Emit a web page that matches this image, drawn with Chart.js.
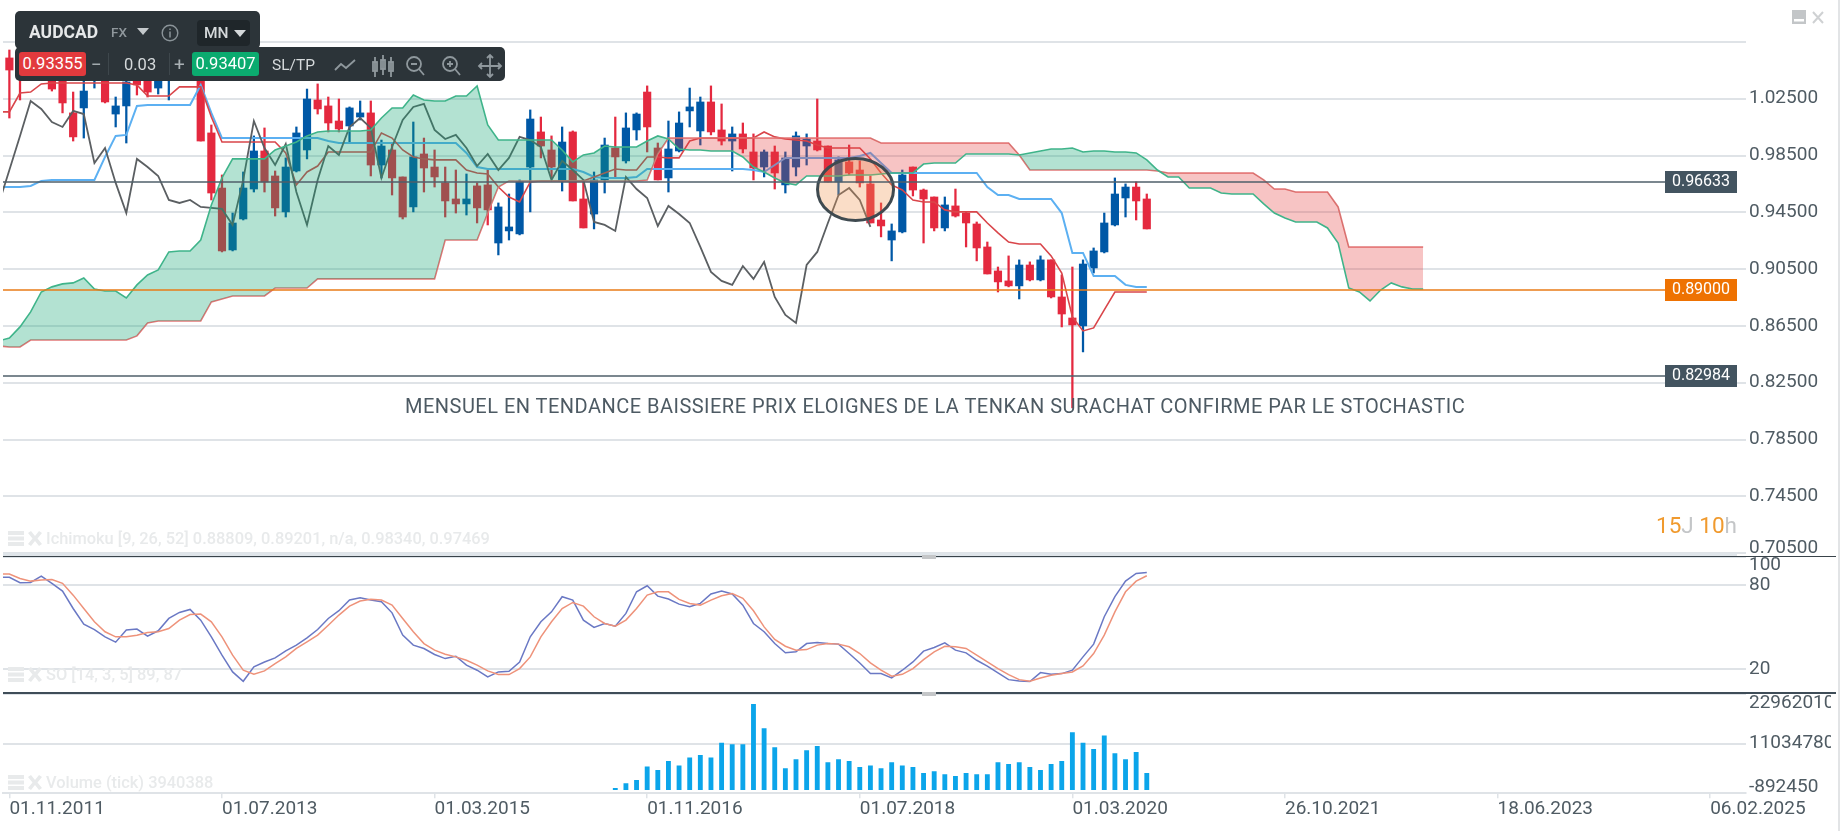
<!DOCTYPE html>
<html>
<head>
<meta charset="utf-8">
<title>AUDCAD MN</title>
<script src="https://cdn.jsdelivr.net/npm/chart.js@4/dist/chart.umd.min.js"></script>
<style>
  html, body { margin: 0; padding: 0; background: #fff; overflow: hidden; }
  body { width: 1841px; height: 831px; position: relative; font-family: Roboto, sans-serif; }
  canvas { position: absolute; left: 0; display: block; }
  #volumeWrap { position: absolute; left: 0; top: 693px; width: 1831px; height: 138px; overflow: hidden; }
  #volumeWrap canvas { top: 0; }
  .abs { position: absolute; white-space: nowrap; }
  .sep { position: absolute; left: 3px; }
  .handle { position: absolute; left: 922px; width: 14px; height: 4px; background: #c4c6c8; }
  .legend { position: absolute; left: 46px; color: #e8eaeb; font-size: 16.4px; font-weight: 500; line-height: 20px; white-space: nowrap; }
  .legend-icon { position: absolute; left: 8px; }
  .bar { position: absolute; background: #2c3439; border-radius: 5px; }
  .tb { position: absolute; color: #d5d9db; white-space: nowrap; line-height: 1; }
  .price-box { position: absolute; height: 24px; line-height: 24px; color: #fff; font-size: 16.5px; text-align: center; border-radius: 3px; }
</style>
</head>
<body>
<canvas id="priceChart" width="1841" height="556" style="top:0"></canvas>
<canvas id="stochChart" width="1841" height="137" style="top:556px"></canvas>
<div id="volumeWrap"><canvas id="volumeChart" width="1841" height="138"></canvas></div>

<!-- separations entre les panneaux -->
<div class="sep" style="top:553px;width:1734px;height:5px;background:#dfe5ea"></div>
<div class="sep" style="top:555.5px;width:1833px;height:1.5px;background:#39434a"></div>
<div class="handle" style="top:555px"></div>
<div class="sep" style="top:691.5px;width:1833px;height:2.5px;background:#3f4d58"></div>
<div class="handle" style="top:692px"></div>
<div class="abs" style="left:1838px;top:0;width:2px;height:831px;background:#e2e4e6"></div>

<div class="abs" id="comment" style="left:405px;top:394px;font-size:20px;line-height:24px;color:#4d5a63;letter-spacing:0.48px">MENSUEL EN TENDANCE BAISSIERE PRIX ELOIGNES DE LA TENKAN SURACHAT CONFIRME PAR LE STOCHASTIC</div>

<svg class="legend-icon" style="top:531px" width="36" height="16"><g fill="#e8eaeb"><rect width="16" height="4"/><rect y="5.5" width="16" height="4"/><rect y="11" width="16" height="4"/><path d="M20 2l3-2 4 5 4-5 3 2-4.500 5.500 4.500 5.500-3 2-4-5-4 5-3-2 4.500-5.500z"/></g></svg>
<div class="legend" style="top:529px">Ichimoku [9, 26, 52] 0.88809, 0.89201, n/a, 0.98340, 0.97469</div>
<svg class="legend-icon" style="top:667px" width="36" height="16"><g fill="#e8eaeb"><rect width="16" height="4"/><rect y="5.5" width="16" height="4"/><rect y="11" width="16" height="4"/><path d="M20 2l3-2 4 5 4-5 3 2-4.500 5.500 4.500 5.500-3 2-4-5-4 5-3-2 4.500-5.500z"/></g></svg>
<div class="legend" style="top:665px">SO [14, 3, 5] 89, 87</div>
<svg class="legend-icon" style="top:775px" width="36" height="16"><g fill="#e8eaeb"><rect width="16" height="4"/><rect y="5.5" width="16" height="4"/><rect y="11" width="16" height="4"/><path d="M20 2l3-2 4 5 4-5 3 2-4.500 5.500 4.500 5.500-3 2-4-5-4 5-3-2 4.500-5.500z"/></g></svg>
<div class="legend" style="top:773px">Volume (tick) 3940388</div>

<div class="abs" style="left:1656px;top:512px;font-size:22.500px;line-height:27px"><span style="color:#f09a2e">15</span><span style="color:#c4c6c8">J </span><span style="color:#f09a2e">10</span><span style="color:#c4c6c8">h</span></div>

<!-- icones fenetre -->
<svg class="abs" style="left:1792px;top:10px" width="34" height="15"><rect width="14" height="14" fill="#c3c6c8"/><rect x="2" y="9" width="10" height="2.500" fill="#fff"/><path d="M21 2l10 11M31 2l-10 11" stroke="#cfd1d3" stroke-width="2"/></svg>

<!-- barre d'outils -->
<div class="bar" style="left:15px;top:11px;width:245px;height:38px"></div>
<div class="bar" style="left:15px;top:47px;width:490px;height:34px"></div>
<div class="tb" style="left:29px;top:24px;font-size:17.500px;font-weight:700;color:#e6e8e9">AUDCAD</div>
<div class="tb" style="left:111px;top:26px;font-size:13.500px;font-weight:500;color:#8f979c">FX</div>
<svg class="abs" style="left:137px;top:28px" width="12" height="8"><path d="M0 0h12l-6 7z" fill="#c4c9cc"/></svg>
<svg class="abs" style="left:161px;top:24px" width="18" height="18"><circle cx="9" cy="9" r="7.800" fill="none" stroke="#8b9499" stroke-width="1.400"/><path d="M9 7.500v6M9 4.500v1.500" stroke="#8b9499" stroke-width="1.500"/></svg>
<div class="abs" style="left:197px;top:20px;width:53px;height:26px;background:#1f262a;border-radius:4px"></div>
<div class="tb" style="left:204px;top:26px;font-size:15.500px;font-weight:500">MN</div>
<svg class="abs" style="left:234px;top:30px" width="12" height="8"><path d="M0 0h12l-6 7z" fill="#d5d9db"/></svg>

<div class="price-box" style="left:19px;top:52px;width:67px;background:#e23a3d">0.93355</div>
<div class="tb" style="left:91px;top:55px;font-size:19px;color:#a9b0b4">&#8722;</div>
<div class="abs" style="left:108px;top:53px;width:1px;height:22px;background:#3e474c"></div>
<div class="tb" style="left:124px;top:57px;font-size:16.500px">0.03</div>
<div class="abs" style="left:169px;top:53px;width:1px;height:22px;background:#3e474c"></div>
<div class="tb" style="left:174px;top:55px;font-size:19px;color:#a9b0b4">+</div>
<div class="price-box" style="left:192px;top:52px;width:67px;background:#0bab6f">0.93407</div>
<div class="tb" style="left:272px;top:58px;font-size:15.500px">SL/TP</div>
<svg class="abs" style="left:332px;top:52px" width="172" height="28" fill="none" stroke="#8f989d" stroke-width="1.800">
  <path d="M3 18l6-6 5 4 9-8"/>
  <path d="M43 5v20M51 3v20M59 5v20"/><rect x="41" y="10" width="4" height="9"/><rect x="49" y="8" width="4" height="9"/><rect x="57" y="10" width="4" height="9"/>
  <circle cx="82" cy="12" r="7"/><path d="M87 17l5 6M79 12h6"/>
  <circle cx="118" cy="12" r="7"/><path d="M123 17l5 6M115 12h6M118 9v6"/>
  <path d="M158 3v22M147 14h22M155 6l3-3 3 3M155 22l3 3 3-3M150 11l-3 3 3 3M166 11l3 3-3 3"/>
</svg>

<script>
// abscisse : un indice par mois, 0 = 01.11.2011
const xTickValues = [0, 20, 40, 60, 80, 100, 120, 140, 160];
const xTickLabels = ['01.11.2011', '01.07.2013', '01.03.2015', '01.11.2016', '01.07.2018', '01.03.2020', '26.10.2021', '18.06.2023', '06.02.2025'];

const priceTicks = [1.065, 1.025, 0.985, 0.945, 0.905, 0.865, 0.825, 0.785, 0.745, 0.705];
const priceTickLabels = ['', '1.02500', '0.98500', '0.94500', '0.90500', '0.86500', '0.82500', '0.78500', '0.74500', '0.70500'];
const stochTicks = [100, 80, 20];
const stochTickLabels = ['100', '80', '20'];
const volumeTicks = [22962010, 11034780, -892450];
const volumeTickLabels = ['22962010', '11034780', '-892450'];

// bougies mensuelles (108)
const candleOpen = [1.0537,1.0523,1.0509,1.0452,1.0523,1.0417,1.0150,1.0185,1.0396,1.0417,1.0142,1.0199,1.0452,1.0396,1.0325,1.0382,1.0523,1.0607,1.0382,1.0009,0.9621,0.9185,0.9403,0.9614,0.9882,0.9706,0.9453,0.9741,0.9889,1.0241,1.0199,1.0093,1.0058,1.0121,1.0150,0.9783,0.9889,0.9699,0.9488,0.9861,0.9769,0.9657,0.9544,0.9509,0.9636,0.9643,0.9234,0.9319,0.9298,0.9769,1.0016,0.9889,0.9671,1.0016,0.9544,0.9438,0.9678,0.9903,0.9812,1.0030,1.0297,0.9903,0.9692,0.9882,1.0164,1.0023,1.0227,1.0030,0.9952,1.0002,0.9875,0.9769,0.9875,0.9643,0.9769,0.9917,0.9952,0.9917,0.9664,0.9805,0.9748,0.9650,0.9396,0.9255,0.9312,0.9769,0.9607,0.9558,0.9340,0.9495,0.9445,0.9368,0.9206,0.9037,0.8967,0.8932,0.9079,0.8974,0.9115,0.8854,0.8706,0.8650,0.9058,0.9171,0.9361,0.9551,0.9628,0.9544];
const candleHigh = [1.0593,1.0628,1.0692,1.0621,1.0579,1.0466,1.0297,1.0417,1.0579,1.0487,1.0262,1.0410,1.0523,1.0452,1.0452,1.0593,1.0677,1.0663,1.0438,1.0065,0.9713,0.9445,0.9734,0.9988,1.0044,0.9741,0.9833,1.0051,1.0318,1.0354,1.0262,1.0248,1.0192,1.0234,1.0234,0.9959,0.9931,0.9699,1.0086,0.9973,0.9889,0.9769,0.9748,0.9720,0.9657,0.9748,0.9516,0.9579,0.9678,1.0171,1.0121,0.9988,1.0051,1.0023,0.9678,0.9734,0.9973,1.0121,1.0150,1.0150,1.0340,0.9938,1.0093,1.0157,1.0325,1.0262,1.0340,1.0213,1.0051,1.0079,1.0002,0.9889,0.9917,0.9875,1.0016,1.0002,1.0248,0.9917,0.9840,0.9924,0.9812,0.9706,0.9516,0.9368,0.9748,0.9769,0.9614,0.9558,0.9558,0.9614,0.9453,0.9382,0.9241,0.9065,0.9143,0.9115,0.9101,0.9143,0.9115,0.9009,0.9065,0.9115,0.9199,0.9445,0.9692,0.9650,0.9664,0.9579];
const candleLow = [1.0114,1.0241,1.0417,1.0382,1.0304,1.0150,0.9952,0.9973,1.0325,1.0220,1.0051,0.9938,1.0276,1.0262,1.0283,1.0241,1.0452,1.0410,0.9952,0.9537,0.9171,0.9178,0.9396,0.9593,0.9593,0.9424,0.9417,0.9734,0.9826,1.0142,1.0016,1.0016,0.9938,1.0100,0.9706,0.9692,0.9572,0.9403,0.9453,0.9593,0.9628,0.9417,0.9445,0.9431,0.9375,0.9361,0.9150,0.9255,0.9291,0.9453,0.9833,0.9692,0.9600,0.9530,0.9340,0.9333,0.9586,0.9699,0.9797,0.9959,0.9875,0.9678,0.9593,0.9875,1.0051,0.9924,0.9995,0.9924,0.9741,0.9868,0.9678,0.9699,0.9614,0.9586,0.9706,0.9783,0.9882,0.9664,0.9572,0.9713,0.9628,0.9375,0.9277,0.9108,0.9305,0.9565,0.9234,0.9319,0.9319,0.9417,0.9206,0.9108,0.9016,0.8889,0.8925,0.8840,0.8967,0.8967,0.8847,0.8643,0.8073,0.8467,0.9023,0.9164,0.9354,0.9417,0.9396,0.9333];
const candleClose = [1.0452,1.0396,1.0649,1.0579,1.0318,1.0220,0.9981,1.0304,1.0523,1.0227,1.0199,1.0368,1.0347,1.0297,1.0396,1.0509,1.0628,1.0452,0.9952,0.9586,0.9178,0.9375,0.9621,0.9882,0.9664,0.9481,0.9769,1.0009,1.0248,1.0178,1.0079,1.0037,1.0185,1.0150,0.9783,0.9917,0.9692,0.9417,0.9840,0.9762,0.9699,0.9530,0.9509,0.9544,0.9481,0.9467,0.9488,0.9347,0.9664,1.0107,0.9917,0.9769,0.9945,0.9530,0.9340,0.9678,0.9924,0.9840,1.0044,1.0142,1.0051,0.9678,0.9896,1.0079,1.0192,1.0227,1.0016,0.9952,1.0002,0.9896,0.9762,0.9875,0.9727,0.9833,0.9988,0.9966,0.9889,0.9664,0.9819,0.9727,0.9657,0.9375,0.9354,0.9319,0.9713,0.9607,0.9544,0.9340,0.9502,0.9424,0.9375,0.9199,0.9016,0.8960,0.8932,0.9079,0.8974,0.9115,0.8854,0.8734,0.8657,0.9086,0.9178,0.9375,0.9579,0.9628,0.9530,0.9333];

// ichimoku : les series commencent a l'indice -1 (bord gauche du graphique)
const tenkan = [1.0157,1.0157,1.0290,1.0297,1.0354,1.0361,1.0361,1.0361,1.0361,1.0361,1.0361,1.0361,1.0361,1.0347,1.0269,1.0269,1.0269,1.0333,1.0333,1.0333,1.0121,0.9945,0.9945,0.9945,0.9945,0.9945,0.9945,0.9868,0.9643,0.9734,0.9776,0.9875,0.9875,0.9875,0.9875,0.9875,1.0009,0.9973,0.9889,0.9840,0.9826,0.9819,0.9819,0.9819,0.9748,0.9727,0.9720,0.9628,0.9558,0.9523,0.9664,0.9671,0.9671,0.9671,0.9671,0.9671,0.9699,0.9727,0.9755,0.9748,0.9748,0.9840,0.9840,0.9833,0.9833,0.9952,0.9973,0.9973,0.9973,0.9973,0.9973,0.9973,1.0016,0.9981,0.9966,0.9959,0.9952,0.9924,0.9903,0.9903,0.9903,0.9903,0.9826,0.9727,0.9643,0.9607,0.9537,0.9523,0.9523,0.9467,0.9453,0.9453,0.9453,0.9375,0.9305,0.9241,0.9227,0.9227,0.9227,0.9143,0.9023,0.8713,0.8615,0.8636,0.8763,0.8889,0.8889,0.8889,0.8889];
const kijun = [0.9628,0.9628,0.9628,0.9636,0.9671,0.9678,0.9678,0.9678,0.9678,0.9678,0.9840,0.9988,0.9995,1.0199,1.0206,1.0206,1.0206,1.0206,1.0206,1.0347,1.0150,0.9973,0.9973,0.9973,0.9973,0.9973,0.9973,0.9973,0.9973,0.9973,0.9973,0.9952,0.9938,0.9938,0.9938,0.9938,0.9938,0.9938,0.9938,0.9938,0.9938,0.9938,0.9938,0.9938,0.9868,0.9769,0.9755,0.9755,0.9755,0.9755,0.9755,0.9755,0.9755,0.9755,0.9755,0.9734,0.9699,0.9692,0.9692,0.9692,0.9699,0.9755,0.9755,0.9755,0.9755,0.9755,0.9755,0.9755,0.9755,0.9755,0.9755,0.9748,0.9734,0.9783,0.9833,0.9833,0.9833,0.9833,0.9833,0.9833,0.9833,0.9847,0.9868,0.9797,0.9727,0.9727,0.9727,0.9727,0.9727,0.9727,0.9727,0.9727,0.9727,0.9628,0.9572,0.9572,0.9544,0.9544,0.9544,0.9544,0.9445,0.9164,0.9164,0.9002,0.9002,0.9002,0.8939,0.8925,0.8925];
const chikou = [0.9509,0.9748,0.9988,1.0234,1.0178,1.0086,1.0051,1.0164,1.0142,0.9797,0.9903,0.9657,0.9445,0.9826,0.9769,0.9706,0.9537,0.9516,0.9537,0.9488,0.9481,0.9474,0.9361,0.9678,1.0093,0.9903,0.9783,0.9931,0.9593,0.9361,0.9678,0.9917,0.9854,1.0051,1.0114,1.0044,0.9692,0.9910,1.0100,1.0192,1.0213,1.0030,0.9966,0.9995,0.9903,0.9776,0.9861,0.9748,0.9833,0.9981,0.9959,0.9910,0.9678,0.9812,0.9748,0.9678,0.9382,0.9361,0.9319,0.9699,0.9614,0.9551,0.9354,0.9495,0.9438,0.9375,0.9206,0.9030,0.8967,0.8939,0.9072,0.8981,0.9101,0.8854,0.8727,0.8671,0.9079,0.9171,0.9375,0.9572,0.9621,0.9537,0.9347];
const spanA = [0.8544,0.8565,0.8643,0.8749,0.8889,0.8925,0.8946,0.8953,0.8988,0.8910,0.8896,0.8896,0.8847,0.8939,0.9009,0.9044,0.9171,0.9178,0.9178,0.9255,0.9502,0.9692,0.9826,0.9826,0.9826,0.9826,0.9889,0.9917,0.9945,0.9988,1.0016,1.0023,1.0023,1.0023,1.0023,1.0030,1.0114,1.0185,1.0185,1.0276,1.0241,1.0234,1.0234,1.0269,1.0269,1.0340,1.0065,0.9959,0.9959,0.9959,0.9959,0.9959,0.9959,0.9889,0.9805,0.9854,0.9868,0.9917,0.9910,0.9910,0.9910,0.9952,0.9988,0.9966,0.9896,0.9889,0.9889,0.9882,0.9882,0.9882,0.9840,0.9769,0.9734,0.9692,0.9657,0.9643,0.9706,0.9706,0.9706,0.9706,0.9713,0.9713,0.9713,0.9720,0.9727,0.9727,0.9727,0.9790,0.9797,0.9797,0.9797,0.9861,0.9861,0.9861,0.9861,0.9861,0.9854,0.9868,0.9882,0.9896,0.9896,0.9903,0.9875,0.9882,0.9882,0.9875,0.9875,0.9868,0.9819,0.9748,0.9699,0.9699,0.9621,0.9621,0.9621,0.9586,0.9579,0.9579,0.9579,0.9509,0.9445,0.9410,0.9382,0.9382,0.9382,0.9340,0.9234,0.8917,0.8889,0.8826,0.8903,0.8953,0.8925,0.8910,0.8910];
const spanB = [0.8509,0.8502,0.8502,0.8551,0.8551,0.8551,0.8551,0.8551,0.8551,0.8551,0.8551,0.8551,0.8551,0.8580,0.8671,0.8685,0.8685,0.8685,0.8685,0.8685,0.8819,0.8840,0.8861,0.8861,0.8861,0.8861,0.8917,0.8917,0.8917,0.8917,0.8981,0.8981,0.8981,0.8981,0.8981,0.8981,0.8981,0.8981,0.8981,0.8981,0.8981,0.8981,0.9255,0.9255,0.9255,0.9255,0.9445,0.9628,0.9671,0.9671,0.9671,0.9671,0.9671,0.9671,0.9671,0.9671,0.9671,0.9671,0.9671,0.9671,0.9671,0.9678,0.9861,0.9973,0.9973,0.9973,0.9973,0.9973,0.9973,0.9973,0.9973,0.9973,0.9973,0.9973,0.9973,0.9973,0.9973,0.9973,0.9973,0.9973,0.9973,0.9973,0.9973,0.9938,0.9938,0.9938,0.9938,0.9938,0.9938,0.9938,0.9938,0.9938,0.9938,0.9938,0.9938,0.9938,0.9854,0.9748,0.9748,0.9748,0.9748,0.9748,0.9748,0.9748,0.9748,0.9748,0.9748,0.9748,0.9748,0.9741,0.9727,0.9727,0.9727,0.9727,0.9727,0.9727,0.9727,0.9727,0.9727,0.9678,0.9614,0.9614,0.9593,0.9593,0.9593,0.9593,0.9488,0.9206,0.9206,0.9206,0.9206,0.9206,0.9206,0.9206,0.9206];

// niveaux horizontaux
const levelValues = [0.96633, 0.89, 0.82984];
const levelLabels = ['0.96633', '0.89000', '0.82984'];

// stochastique (108)
const stochK = [85.5,81.7,81.9,86.4,81.2,75.7,63.3,52.1,48.3,43.1,39.3,47.9,48.6,43.6,47.4,56.2,60.5,62.6,55,43.1,30,18.1,11.4,21.7,25.2,28.1,33.1,37.2,42.4,48.3,56.2,61.7,69.3,70.9,69.3,68.1,60.2,44.3,37.2,34.8,30.5,27.6,29.3,22.9,19.3,14.5,18.1,18.6,25.2,43.1,53.8,60.9,71.7,69.3,55,49.8,52.6,50.7,59.8,75.2,79.5,72.1,70,66.4,64.5,66.9,73.6,75.7,73.6,65.7,52.6,46.7,38.3,31.7,32.4,38.3,39.1,38.3,37.9,31.2,24.5,16.9,16.9,13.8,19.3,25.2,32.9,35.5,38.8,33.6,31.7,26.4,22.2,17.4,12.6,11.7,11.2,17.6,16.4,16.9,19.3,28.8,37.9,57.4,71.7,82.8,88.3,89];
const stochD = [87.8,84.7,82.8,83.6,84,81.2,72.8,63.3,53.8,46.7,43.1,43.1,44.3,46.2,46.7,49,55,59,59.3,53.8,43.1,30,19.3,16.4,18.8,24,28.8,34.8,39.5,44.3,51.4,58.6,65,68.6,69.8,69.3,65.7,56.2,46.7,38.3,33.6,30.7,28.8,26.4,22.9,18.8,16.2,16.2,20.5,28.8,43.1,53.8,63.3,67.6,65,57.4,52.6,50.7,55,63.3,72.8,75.2,75.2,69.8,66.9,65.7,69.3,72.4,74,70.5,61.7,50.2,41.2,36.4,33.6,34,37.2,38.3,37.9,36,31.2,24.5,19.3,15,16.4,20.5,26.9,32.4,36.4,36,34.8,30,25.2,20.5,16.2,12.6,11.4,13.8,15.7,16.9,18.1,22.4,31.2,44.3,60.9,75.2,82.8,86.6];

// volume, du mois 57 au mois 107
const volumeStart = 57;
const volumeValues = [320000,1440000,2240000,5450000,4650000,6810000,5690000,7610000,8260000,7610000,11200000,10800000,10800000,20500000,14700000,10100000,5050000,7210000,9380000,10400000,6490000,7210000,6810000,5370000,5690000,5050000,6490000,5690000,5370000,3930000,4330000,3610000,3210000,3930000,3610000,3610000,6490000,6090000,6490000,5370000,4650000,6090000,6810000,13700000,11200000,9700000,12900000,8660000,7210000,8980000,3930000];

const GRID = '#dfe3e7';
const TEXT = '#4f5b63';
const RED = '#e4293f';
const BLUE = '#0058a6';

const toPoints = (values, start) => values.map((v, k) => ({ x: start + k, y: v }));

function lineSet(values, color, width, order) {
  return { type: 'line', data: toPoints(values, -1), borderColor: color, borderWidth: width, pointRadius: 0, tension: 0, fill: false, order: order };
}

function xAxis(showLabels) {
  const axis = {
    type: 'linear', min: -0.6, max: 163.37, offset: false,
    grid: { display: false, offset: false },
    display: showLabels
  };
  if (showLabels) {
    axis.afterBuildTicks = (scale) => { scale.ticks = xTickValues.map((v) => ({ value: v })); };
    axis.afterFit = (scale) => { scale.height = 37.7; scale.paddingLeft = 0; scale.paddingRight = 0; };
    axis.border = { color: GRID, width: 2 };
    axis.grid = { display: true, offset: false, drawOnChartArea: false, tickLength: 5, color: GRID, lineWidth: 1.5 };
    axis.ticks = {
      align: 'start', autoSkip: false, maxRotation: 0, minRotation: 0, padding: 0, color: TEXT,
      font: { family: 'Roboto', size: 19 },
      callback: (v, i) => xTickLabels[i]
    };
  }
  return axis;
}

// labelShift : decale un libelle pres du bord du panneau (libelle sur deux lignes dont une vide)
function yAxis(min, max, values, labels, labelShift) {
  return {
    position: 'right', min: min, max: max,
    afterBuildTicks: (scale) => { scale.ticks = values.map((v) => ({ value: v })); },
    afterFit: (scale) => { scale.width = 95; scale.paddingTop = 0; scale.paddingBottom = 0; },
    border: { display: false },
    grid: { color: GRID, lineWidth: 2, drawTicks: false },
    ticks: {
      autoSkip: false, padding: 3, color: TEXT,
      font: (ctx) => {
        const shift = labelShift[labels[ctx.index]];
        return { family: 'Roboto', size: 19, lineHeight: shift ? Math.abs(shift) * 2 / 19 : 1.2 };
      },
      callback: (v, i) => {
        const shift = labelShift[labels[i]];
        if (!shift) return labels[i];
        return shift > 0 ? ['', labels[i]] : [labels[i], ''];
      }
    }
  };
}

function makeChart(id, datasets, x, y, plugins) {
  return new Chart(document.getElementById(id), {
    type: 'bar',
    data: { datasets: datasets },
    options: {
      responsive: false, animation: false, events: [],
      layout: { padding: { left: 3 } },
      plugins: { legend: { display: false }, tooltip: { enabled: false } },
      scales: { x: x, y: y }
    },
    plugins: plugins || []
  });
}

const candleColors = candleOpen.map((o, i) => (candleClose[i] >= o ? BLUE : RED));

// trace les niveaux, l'ellipse et les etiquettes par-dessus les series
const overlayPlugin = {
  id: 'overlay',
  afterDatasetsDraw(chart) {
    const c = chart.ctx, area = chart.chartArea, yS = chart.scales.y, xS = chart.scales.x;
    c.save();
    // ellipse du dessin autour de la zone de retournement
    c.beginPath();
    c.ellipse(xS.getPixelForValue(79.6), yS.getPixelForValue(0.9611), 38, 31, 0, 0, Math.PI * 2);
    c.fillStyle = 'rgba(240,150,80,0.32)';
    c.fill();
    c.lineWidth = 3;
    c.strokeStyle = '#3f4a50';
    c.stroke();
    const colors = ['#4f5f6a', '#e87b17', '#4f5f6a'];
    const boxes = ['#435460', '#ee7202', '#435460'];
    levelValues.forEach((v, i) => {
      const py = Math.round(yS.getPixelForValue(v));
      c.strokeStyle = colors[i];
      c.lineWidth = 1.6;
      c.beginPath();
      c.moveTo(area.left, py);
      c.lineTo(1665, py);
      c.stroke();
      c.fillStyle = boxes[i];
      c.fillRect(1665, py - 11, 72, 22);
      c.fillStyle = '#fff';
      c.font = '16px Roboto';
      c.textAlign = 'center';
      c.textBaseline = 'middle';
      c.fillText(levelLabels[i], 1701, py);
    });
    c.restore();
  }
};

makeChart('priceChart', [
  { data: candleHigh.map((h, i) => ({ x: i, y: [candleLow[i], h] })), backgroundColor: candleColors, barThickness: 1.6, grouped: false, order: 6 },
  { data: candleOpen.map((o, i) => ({ x: i, y: [o, candleClose[i]] })), backgroundColor: candleColors, barThickness: 7.5, grouped: false, order: 5 },
  lineSet(kijun, '#5cb0f2', 2, 4),
  lineSet(tenkan, '#d9454a', 1.6, 3),
  lineSet(chikou, '#5b5f62', 1.8, 2),
  {
    type: 'line', data: toPoints(spanA, -1), borderColor: '#3fb48a', borderWidth: 1.6, pointRadius: 0, tension: 0,
    fill: { target: '+1', above: 'rgba(20,165,115,0.32)', below: 'rgba(228,60,60,0.30)' }, order: 0
  },
  lineSet(spanB, '#e27878', 1.6, 1)
], xAxis(false), yAxis(0.703, 1.0945, priceTicks, priceTickLabels, { '0.70500': -5 }), [overlayPlugin]);

makeChart('stochChart', [
  lineSet([stochK[0]].concat(stochK), '#6a78c4', 1.5, 1),
  lineSet([stochD[0]].concat(stochD), '#ee927a', 1.5, 0)
], xAxis(false), yAxis(3.07, 100.7, stochTicks, stochTickLabels, { '100': 8.500 }));

makeChart('volumeChart', [
  { data: toPoints(volumeValues, volumeStart), backgroundColor: '#0ba5ea', barThickness: 4.2, grouped: false, base: 0 }
], xAxis(true), yAxis(-892450, 23226000, volumeTicks, volumeTickLabels, { '22962010': 9, '-892450': -6 }));
</script>
</body>
</html>
